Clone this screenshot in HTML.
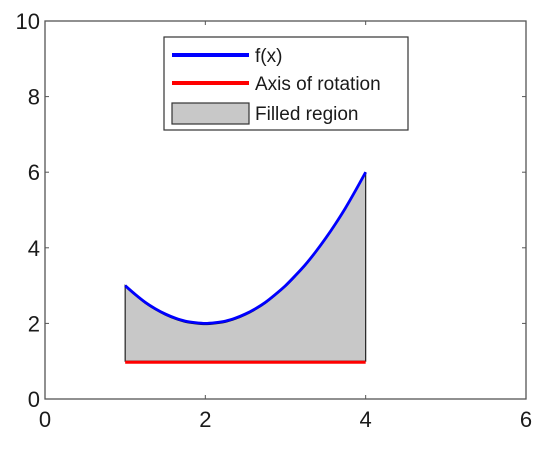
<!DOCTYPE html>
<html><head><meta charset="utf-8"><style>
body{margin:0;background:#fff;}
svg text{font-family:"Liberation Sans",sans-serif;fill:#1a1a1a;}
</style></head><body>
<svg id="chart" width="556" height="445"></svg>
<script>
const xValues=[1,1.125,1.25,1.375,1.5,1.625,1.75,1.875,2,2.125,2.25,2.375,2.5,2.625,2.75,2.875,3,3.125,3.25,3.375,3.5,3.625,3.75,3.875,4];
const fValues=[3,2.77,2.56,2.39,2.25,2.14,2.06,2.02,2,2.02,2.06,2.14,2.25,2.39,2.56,2.77,3,3.27,3.56,3.89,4.25,4.64,5.06,5.52,6];
const axisValue=1;
const xTicks=[0,2,4,6];
const yTicks=[0,2,4,6,8,10];
const L=45,R=526,T=21,B=399;
const sx=v=>L+(v-0)/(6-0)*(R-L);
const sy=v=>B-(v-0)/(10-0)*(B-T);
const NS='http://www.w3.org/2000/svg';
const svg=document.getElementById('chart');
function mk(t,a,p){const e=document.createElementNS(NS,t);for(const k in a)e.setAttribute(k,a[k]);(p||svg).appendChild(e);return e;}
const pts=xValues.map((x,i)=>[sx(x),sy(fValues[i])]);
function smooth(p){let s='M'+p[0][0]+','+p[0][1];for(let i=0;i<p.length-1;i++){const p0=p[i-1]||p[i],p1=p[i],p2=p[i+1],p3=p[i+2]||p2;
const c1=[p1[0]+(p2[0]-p0[0])/6,p1[1]+(p2[1]-p0[1])/6],c2=[p2[0]-(p3[0]-p1[0])/6,p2[1]-(p3[1]-p1[1])/6];
s+=' C'+c1.join(',')+' '+c2.join(',')+' '+p2.join(',');}return s;}
const cd=smooth(pts);
const d='M'+sx(xValues[0])+','+sy(axisValue)+' L'+cd.slice(1)+' L'+sx(xValues[xValues.length-1])+','+sy(axisValue)+' Z';
const fill=mk('path',{d:d,fill:'#c8c8c8',stroke:'#222','stroke-width':1.2});


mk('path',{d:cd,fill:'none',stroke:'#111','stroke-width':1,transform:'translate(0,1.2)'});
const curve=mk('path',{d:cd,fill:'none',stroke:'#0000ff','stroke-width':2.8,'stroke-linejoin':'round'});


const ax=mk('line',{x1:sx(xValues[0]),x2:sx(xValues[xValues.length-1]),y1:sy(axisValue)+1,y2:sy(axisValue)+1,stroke:'#ff0000','stroke-width':3});


const fr=mk('rect',{x:L,y:T,width:R-L,height:B-T,fill:'none',stroke:'#555','stroke-width':1.3});


xTicks.forEach(v=>{
 mk('line',{x1:sx(v),x2:sx(v),y1:B,y2:B-4,stroke:'#555'});
 mk('line',{x1:sx(v),x2:sx(v),y1:T,y2:T+4,stroke:'#555'});
 const t=mk('text',{x:sx(v),y:B+28,'text-anchor':'middle','font-size':22});
 t.textContent=v;
 
 
});
yTicks.forEach(v=>{
 mk('line',{x1:L,x2:L+4,y1:sy(v),y2:sy(v),stroke:'#555'});
 mk('line',{x1:R,x2:R-4,y1:sy(v),y2:sy(v),stroke:'#555'});
 const t=mk('text',{x:L-5,y:sy(v)+8,'text-anchor':'end','font-size':22});
 t.textContent=v;
 
 
});
</script>
<svg width="556" height="445" style="position:absolute;left:0;top:0">
<rect x="164" y="37" width="244" height="93" fill="#fff" stroke="#333" stroke-width="1.2"/>
<g><line x1="172" x2="249" y1="55" y2="55" stroke="#0000ff" stroke-width="4"/><text x="255" y="62" font-size="19" style="font-family:'Liberation Sans',sans-serif" fill="#111">f(x)</text></g>
<g><line x1="172" x2="249" y1="83" y2="83" stroke="#ff0000" stroke-width="4"/><text x="255" y="90" font-size="19" style="font-family:'Liberation Sans',sans-serif" fill="#111">Axis of rotation</text></g>
<g><rect x="172" y="103" width="77" height="21" fill="#c8c8c8" stroke="#333" stroke-width="1.2"/><text x="255" y="120" font-size="19" style="font-family:'Liberation Sans',sans-serif" fill="#111">Filled region</text></g>
</svg>
</body></html>
